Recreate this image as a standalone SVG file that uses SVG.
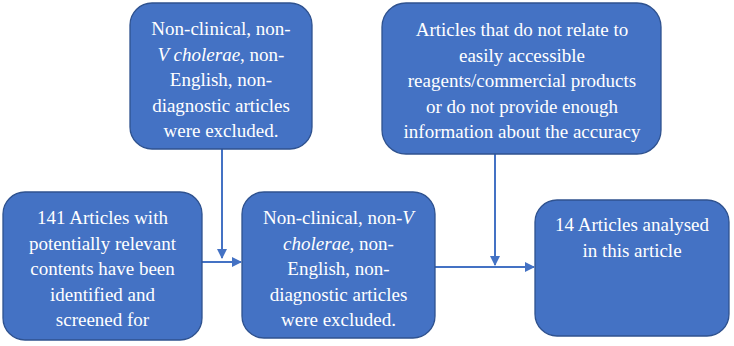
<svg xmlns="http://www.w3.org/2000/svg" width="734" height="346" viewBox="0 0 734 346">
<style>
.box{fill:#4472C4;stroke:#2F528F;stroke-width:1.3}
.t{font-family:serif;font-size:19px;fill:#fff;text-anchor:middle}
.i{font-style:italic}
.c{stroke:#4472C4;stroke-width:2;fill:none;marker-end:url(#ah)}
</style>
<defs>
<marker id="ah" viewBox="0 0 10 10" refX="9" refY="5" markerWidth="5" markerHeight="5" orient="auto" markerUnits="strokeWidth">
<path d="M0,0 L10,5 L0,10 z" fill="#4472C4"/>
</marker>
</defs>
<rect width="734" height="346" fill="#fff"/>
<g id="connectors">
<path class="c" d="M222,149 V258"/>
<path class="c" d="M202,262 H241"/>
<path class="c" d="M495,154 V265"/>
<path class="c" d="M435,267 H534"/>
</g>
<g id="excl1">
<rect class="box" x="130" y="3" width="182" height="146" rx="22"/>
<text class="t" x="221" y="35">Non-clinical, non-</text>
<text class="t" x="221" y="60.5"><tspan class="i">V cholerae</tspan>, non-</text>
<text class="t" x="221" y="86">English, non-</text>
<text class="t" x="221" y="111.5">diagnostic articles</text>
<text class="t" x="221" y="137">were excluded.</text>
</g>
<g id="excl2">
<rect class="box" x="382" y="3" width="279" height="151" rx="24"/>
<text class="t" x="522" y="36">Articles that do not relate to</text>
<text class="t" x="522" y="61.5">easily accessible</text>
<text class="t" x="522" y="87">reagents/commercial products</text>
<text class="t" x="522" y="112.5">or do not provide enough</text>
<text class="t" x="522" y="138">information about the accuracy</text>
</g>
<g id="start">
<rect class="box" x="3" y="192" width="199" height="148" rx="22"/>
<text class="t" x="102.5" y="224">141 Articles with</text>
<text class="t" x="102.5" y="249.5">potentially relevant</text>
<text class="t" x="102.5" y="275">contents have been</text>
<text class="t" x="102.5" y="300.5">identified and</text>
<text class="t" x="102.5" y="326">screened for</text>
</g>
<g id="mid">
<rect class="box" x="242" y="192" width="193" height="146" rx="22"/>
<text class="t" x="338.5" y="224">Non-clinical, non-<tspan class="i">V</tspan></text>
<text class="t" x="338.5" y="249.5"><tspan class="i">cholerae</tspan>, non-</text>
<text class="t" x="338.5" y="275">English, non-</text>
<text class="t" x="338.5" y="300.5">diagnostic articles</text>
<text class="t" x="338.5" y="326">were excluded.</text>
</g>
<g id="final">
<rect class="box" x="535" y="200" width="194" height="136" rx="22"/>
<text class="t" x="632" y="231">14 Articles analysed</text>
<text class="t" x="632" y="256.5">in this article</text>
</g>
</svg>
